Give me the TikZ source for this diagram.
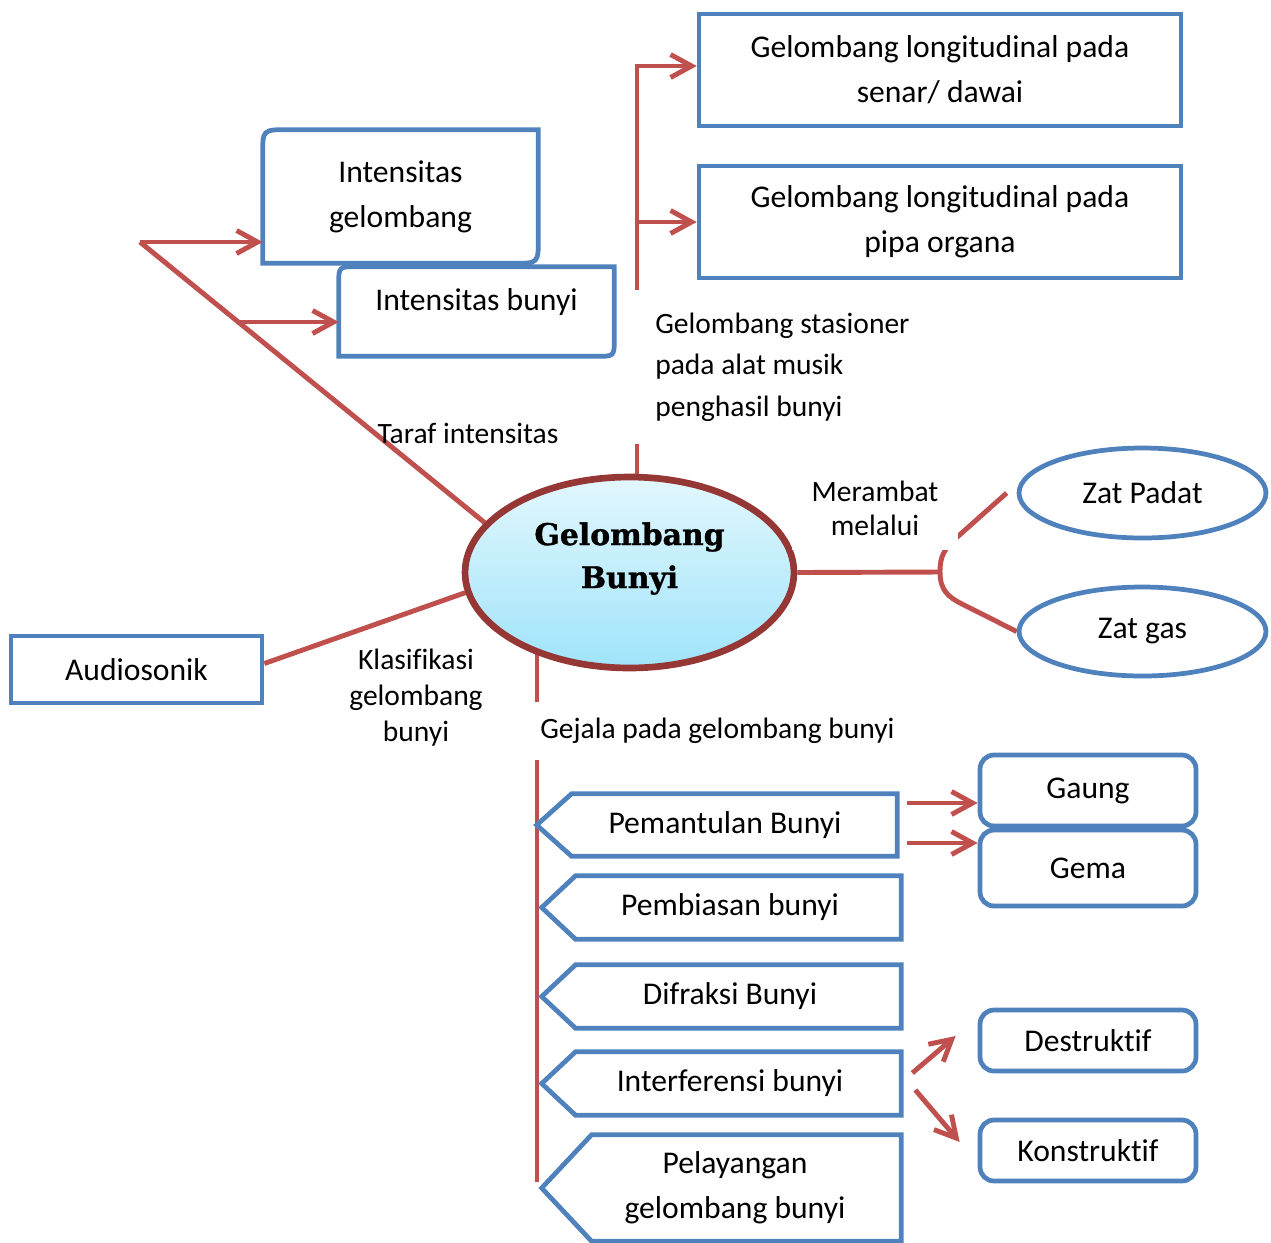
\documentclass[tikz,border=0pt]{standalone}
\usepackage{fontspec}
\setmainfont{Carlito}[Ligatures=NoCommon]
\newfontfamily\titlefont{DejaVu Serif}[FakeBold=1.2]
\usetikzlibrary{arrows.meta,shapes.geometric}
\pgfdeclarelayer{background}
\pgfsetlayers{background,main}

\definecolor{lineRed}{RGB}{192,80,77}
\definecolor{boxBlue}{RGB}{79,129,189}
\definecolor{ringRed}{RGB}{149,55,53}
\definecolor{skyTop}{RGB}{226,247,253}
\definecolor{skyBot}{RGB}{160,228,250}

\tikzset{
  redline/.style={draw=lineRed, line width=2.8pt},
  redarrow/.style={redline, -{Straight Barb[length=0.42cm,width=0.46cm]}},
  boxline/.style={draw=boxBlue, line width=2.7pt},
  bluebox/.style={boxline, fill=white, inner sep=0pt},
  roundbox/.style={bluebox, rounded corners=0.28cm},
  txt/.style={font=\fontsize{18}{25.6}\selectfont, align=center},
  lbl/.style={font=\fontsize{16.8}{23.6}\selectfont},
  titletxt/.style={font=\titlefont\bfseries\fontsize{17}{24.5}\selectfont, align=center},
}

% outline of a pentagon pointing left, built round a node
\newcommand{\pentaoutline}[3]{%
  \draw[boxline] (#1.north east) -- ([xshift=#2]#1.north west) -- ([xshift=-#3]#1.west)
    -- ([xshift=#2]#1.south west) -- (#1.south east) -- cycle;}

\begin{document}
\begin{tikzpicture}[x=0.02cm,y=-0.02cm]
\path[use as bounding box, clip] (0,0) rectangle (1271,1242);

% central topic
\node[ellipse, draw=ringRed, line width=3.8pt, top color=skyTop, bottom color=skyBot,
      minimum width=6.58cm, minimum height=3.82cm, inner sep=0pt,
      label={[titletxt, yshift=0.28cm]center:Gelombang\\Bunyi}] (gb) at (629.5,572.5) {};

% standing waves
\node[bluebox, txt, minimum width=9.64cm, minimum height=2.24cm] (b1) at (940,70)
  {Gelombang longitudinal pada\\senar/ dawai};
\node[bluebox, txt, minimum width=9.64cm, minimum height=2.24cm] (b2) at (940,222)
  {Gelombang longitudinal pada\\pipa organa};

% intensity
\node[txt, minimum width=5.5cm, minimum height=2.66cm] (ig) at (400.5,196.5) {Intensitas\\gelombang};
\draw[boxline] (ig.south west) -- ([yshift=-0.5cm]ig.north west) .. controls (ig.north west) .. ([xshift=0.5cm]ig.north west)
  -- (ig.north east) -- ([yshift=0.5cm]ig.south east) .. controls (ig.south east) .. ([xshift=-0.5cm]ig.south east) -- cycle;
\node[minimum width=5.5cm, minimum height=1.78cm,
      label={[txt, yshift=0.19cm]center:Intensitas bunyi}] (ib) at (476.5,311.5) {};
\draw[boxline] (ib.south west) -- ([yshift=-0.36cm]ib.north west) .. controls (ib.north west) .. ([xshift=0.36cm]ib.north west)
  -- (ib.north east) -- ([yshift=0.36cm]ib.south east) .. controls (ib.south east) .. ([xshift=-0.36cm]ib.south east) -- cycle;

% classification
\node[bluebox, txt, minimum width=5.02cm, minimum height=1.34cm] (au) at (136.5,669.5) {Audiosonik};

% media
\node[ellipse, bluebox, txt, minimum width=4.94cm, minimum height=1.80cm] (zp) at (1142.5,493) {Zat Padat};
\node[ellipse, bluebox, txt, minimum width=4.94cm, minimum height=1.78cm] (zg) at (1142.5,631.5) {Zat gas};

% phenomena
\node[txt, minimum width=6.88cm, minimum height=1.24cm] (pb) at (725,825) {Pemantulan Bunyi};
\pentaoutline{pb}{0.38cm}{0.32cm}
\node[txt, minimum width=6.84cm, minimum height=1.26cm] (pbi) at (730,907.5) {Pembiasan bunyi};
\pentaoutline{pbi}{0.34cm}{0.34cm}
\node[txt, minimum width=6.84cm, minimum height=1.26cm] (df) at (730,996.5) {Difraksi Bunyi};
\pentaoutline{df}{0.34cm}{0.34cm}
\node[txt, minimum width=6.84cm, minimum height=1.26cm] (intf) at (730,1083.5) {Interferensi bunyi};
\pentaoutline{intf}{0.34cm}{0.34cm}
\node[txt, minimum width=6.64cm, minimum height=2.12cm] (pl) at (735,1188) {Pelayangan\\gelombang bunyi};
\pentaoutline{pl}{0.46cm}{0.54cm}

\node[roundbox, txt, minimum width=4.32cm, minimum height=1.52cm] (gm) at (1088,868) {Gema};
\node[roundbox, txt, minimum width=4.32cm, minimum height=1.42cm] (ga) at (1088,790.5) {Gaung};
\node[roundbox, txt, minimum width=4.32cm, minimum height=1.22cm] (ds) at (1088,1040.5) {Destruktif};
\node[roundbox, txt, minimum width=4.32cm, minimum height=1.22cm] (ks) at (1088,1150.5) {Konstruktif};

% branch labels
\node[lbl, fill=white, align=left, anchor=west, inner xsep=0.42cm, minimum height=3.08cm] (st) at (634,367)
  {Gelombang stasioner\\pada alat musik\\penghasil bunyi};
\node[lbl] (ti) at (468,433) {Taraf intensitas};
\node[lbl, fill=white, align=center, minimum width=3.34cm, minimum height=1.68cm,
      font=\fontsize{16.8}{19.5}\selectfont] (mr) at (875,508) {Merambat\\melalui};
\node[lbl, align=center, font=\fontsize{16.8}{20.5}\selectfont] (kl) at (416,698) {Klasifikasi\\gelombang\\bunyi};
\node[lbl, fill=white, anchor=west, inner xsep=0.16cm, minimum height=1.16cm] (gj) at (532,731)
  {Gejala pada gelombang bunyi};

% connector end points
\coordinate (up) at (637,66);
\coordinate (m2) at (637,222);
\coordinate (tl) at (140,242);
\coordinate (tb) at (237,322);
\coordinate (jn) at (940,572);
\coordinate (dn) at (537,1182);
\coordinate (a1) at (907,803);
\coordinate (a2) at (907,843);

\begin{pgfonlayer}{background}
  \draw[redarrow] (up |- gb.center) -- (up) -- (up -| b1.west);
  \draw[redline] (gb.161) -- (tl);
  \draw[redline] ([yshift=0.12cm]au.east) -- (gb.187);
  \draw[redline] (dn |- gb.center) -- (dn);
  \draw[redline] (gb.east) -- (jn) .. controls (940,556) and (944,550) .. (955,539) -- ([xshift=-0.2cm]zp.west);
  \draw[redline] (jn) .. controls (940,590) and (948,597) .. (962,604) -- (zg.west);
\end{pgfonlayer}

\draw[redarrow] (m2) -- (m2 -| b2.west);
\draw[redarrow] (tl) -- (tl -| ig.west);
\draw[redarrow] (tb) -- (tb -| ib.west);
\draw[redarrow] (a1) -- (a1 -| ga.west);
\draw[redarrow] (a2) -- (a2 -| gm.west);
\draw[redarrow] ([shift={(11,-10.5)}]intf.east) -- ([shift={(-22,-4.5)}]ds.west);
\draw[redarrow] ([shift={(14,6.5)}]intf.east) -- ([shift={(-18,-8.5)}]ks.west);
\end{tikzpicture}
\end{document}
